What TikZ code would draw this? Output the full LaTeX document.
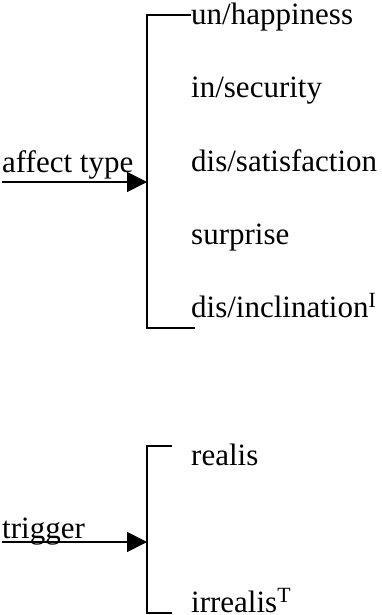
\documentclass[tikz,border=0pt]{standalone}
\usepackage{fontspec}
\setmainfont{Liberation Serif}
\usetikzlibrary{arrows.meta,positioning}

\tikzset{
    feat/.style={anchor=base west, inner sep=0pt, font=\fontsize{31}{37}\selectfont},
    brk/.style={line width=1.8pt},
    entry/.style={line width=1.8pt, -{Triangle[length=20pt,width=20pt]}}
}

\begin{document}
\begin{tikzpicture}[x=1pt, y=1pt]
    \useasboundingbox (0, 0) rectangle (382, -615);

    % affect type system
    \node[feat] (aff) at (2, -172) {affect type};
    \node[feat] (hap) at (191, -25) {un/happiness};
    \node[feat] (sec) at (191, -98) {in/security};
    \node[feat] (sat) at (191, -171) {dis/satisfaction};
    \node[feat] (sur) at (191, -244) {surprise};
    \node[feat] (inc) at (191, -317) {dis/inclination\textsuperscript{I}};
    \coordinate (affin) at (2, -182);
    \coordinate (affb) at (147, -182);

    \draw[brk] (hap.west |- 0, -15) -- (147, -15) -- (147, -328) -- (195, -328);
    \draw[entry] (affin) -- (affb);

    % trigger system
    \node[feat] (trg) at (2, -538) {trigger};
    \node[feat] (rea) at (191, -465) {realis};
    \node[feat] (irr) at (191, -612) {irrealis\textsuperscript{T}};
    \coordinate (trgin) at (2, -542);
    \coordinate (trgb) at (147, -542);

    \draw[brk] (172, -446) -- (147, -446) -- (147, -613) -- (172, -613);
    \draw[entry] (trgin) -- (trgb);
\end{tikzpicture}
\end{document}
